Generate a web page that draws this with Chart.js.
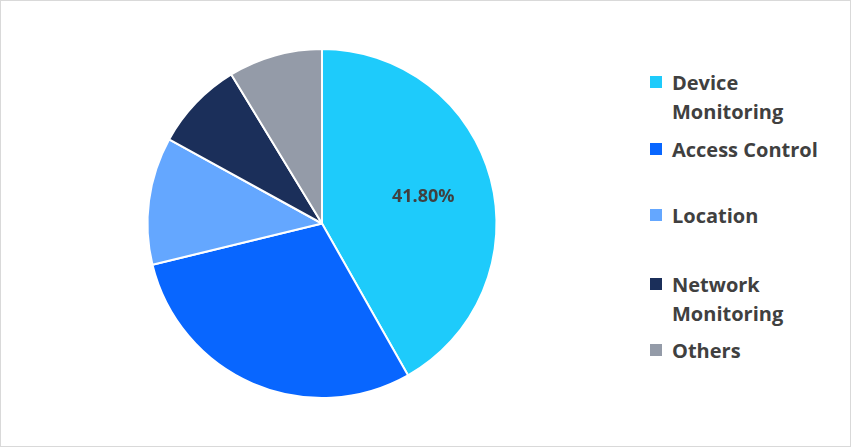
<!DOCTYPE html>
<html>
<head>
<meta charset="utf-8">
<script src="https://cdn.jsdelivr.net/npm/chart.js@4"></script>
<style>
  body { margin: 0; background: #fff; font-family: "Open Sans", sans-serif; }
  #frame { position: absolute; left: 0; top: 0; width: 849px; height: 445px; border: 1px solid #d9d9d9; }
  #wrap { position: absolute; left: 0; top: 0; width: 644px; height: 447px; }
  .lg { position: absolute; left: 650px; display: flex; align-items: flex-start; font-size: 20px; font-weight: bold; color: #404040; line-height: 29px; }
  .lg span.box { width: 12px; height: 12px; margin: 8px 10px 0 0; flex: none; }
</style>
</head>
<body>
<div id="frame"></div>
<div id="wrap"><canvas id="myChart"></canvas></div>
<div id="legend"></div>
<script>
const categories = ["Device Monitoring", "Access Control", "Location", "Network Monitoring", "Others"];
const shares = [41.8, 29.4, 11.8, 8.3, 8.7];
const colors = ["#1ECBFB", "#0866FF", "#64A7FF", "#1B2F5A", "#949BA8"];
const legendLines = [["Device", "Monitoring"], ["Access Control"], ["Location"], ["Network", "Monitoring"], ["Others"]];

// legend drawn as html so labels can wrap like the original
const legendTops = [68, 135, 201, 270, 336];
const legend = document.getElementById("legend");
categories.forEach((c, i) => {
  const d = document.createElement("div");
  d.className = "lg";
  d.style.top = legendTops[i] + "px";
  d.innerHTML = '<span class="box" style="background:' + colors[i] + '"></span><span>' + legendLines[i].join("<br>") + "</span>";
  legend.appendChild(d);
});

const labelPlugin = {
  id: "firstLabel",
  afterDatasetsDraw(chart) {
    const arc = chart.getDatasetMeta(0).data[0];
    const mid = (arc.startAngle + arc.endAngle) / 2;
    const r = arc.outerRadius * 0.6;
    const ctx = chart.ctx;
    ctx.save();
    ctx.font = "bold 18px 'Open Sans'";
    ctx.fillStyle = "#404040";
    ctx.textAlign = "center";
    ctx.textBaseline = "middle";
    ctx.fillText(shares[0].toFixed(2) + "%", arc.x + Math.cos(mid) * r, arc.y + Math.sin(mid) * r);
    ctx.restore();
  }
};

const ctx = document.getElementById("myChart").getContext("2d");
new Chart(ctx, {
  type: "pie",
  data: {
    labels: categories,
    datasets: [{
      data: shares,
      backgroundColor: colors,
      borderColor: "#ffffff",
      borderWidth: 2,
    }],
  },
  options: {
    responsive: true,
    maintainAspectRatio: false,
    animation: false,
    layout: { padding: 48 },
    plugins: { legend: { display: false }, tooltip: { enabled: false } },
  },
  plugins: [labelPlugin],
});
</script>
</body>
</html>
